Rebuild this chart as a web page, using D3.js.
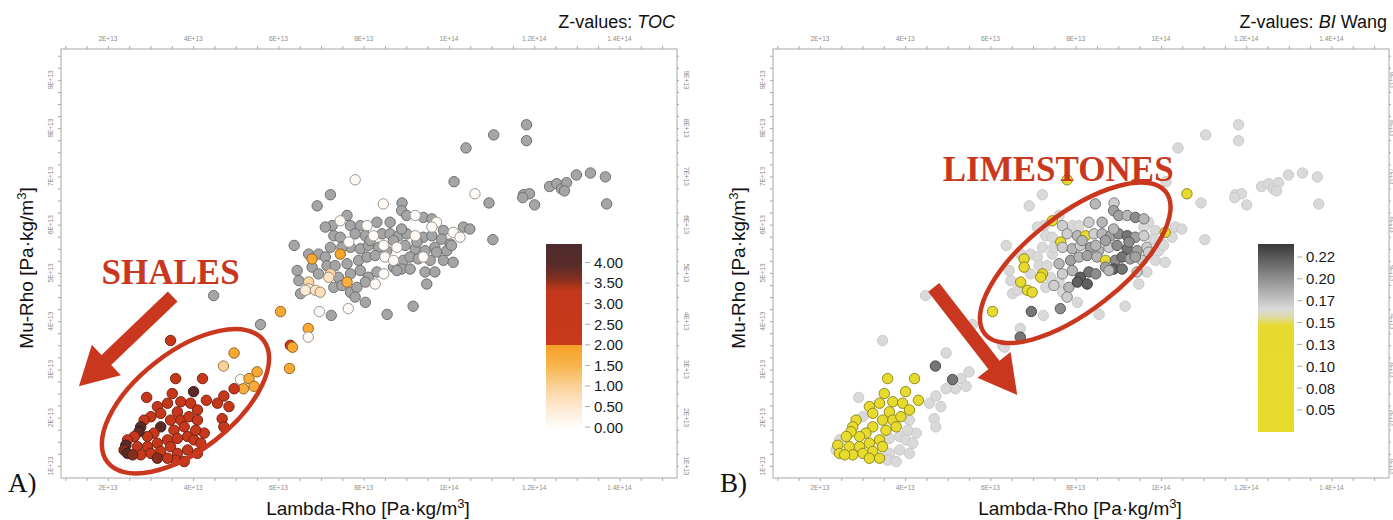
<!DOCTYPE html>
<html><head><meta charset="utf-8">
<script src="https://cdn.jsdelivr.net/npm/d3@7"></script>
<style>body{margin:0;background:#fff;} svg{display:block;font-family:"Liberation Sans",Arial,sans-serif;}</style>
</head><body><svg id="c" width="1393" height="520"></svg>
<script>
// Lambda-Rho and Mu-Rho in units of 1E+13 Pa·kg/m3
const lambdaRho = [
11.82,11.82,11.05,10.40,10.12,10.61,10.94,11.75,11.89,11.73,12.01,12.36,12.53,12.64,12.76,12.71,12.99,13.32,13.67,13.70,
11.03,9.16,8.55,7.80,7.22,6.91,8.46,8.90,6.37,6.05,6.70,6.70,6.28,6.33,5.58,6.96,7.24,7.64,8.04,4.48,
7.61,7.45,7.26,7.10,7.69,7.92,8.08,8.31,8.62,8.89,9.01,9.21,9.40,9.60,9.71,9.60,9.87,10.10,10.34,10.49,
7.30,7.45,7.65,7.80,8.04,8.23,8.43,8.62,8.82,9.01,9.21,9.40,9.60,9.83,10.03,10.26,
6.71,6.94,6.79,7.10,7.45,7.69,7.92,8.11,8.35,8.54,8.78,8.97,9.21,9.44,9.67,9.95,10.06,
6.44,6.79,7.14,7.33,7.61,7.88,8.08,8.27,8.50,8.70,8.93,9.09,9.28,9.56,9.87,10.10,
6.48,6.71,6.94,7.22,7.18,7.41,7.61,7.69,7.92,8.11,8.31,8.47,8.70,8.89,9.09,9.44,9.67,
6.52,6.71,6.87,6.98,6.63,7.30,7.49,7.69,7.84,8.04,8.27,7.80,9.48,
8.15,8.70,9.25,8.47,9.40,8.78,7.49,7.22,9.71,8.89,
3.47,3.59,4.22,4.01,2.91,3.51,4.31,4.57,4.84,4.68,4.72,4.26,3.16,3.40,3.71,3.94,4.10,3.63,3.24,3.01,
2.85,2.77,3.24,3.47,3.71,3.90,4.10,3.79,3.55,3.08,2.93,2.73,2.62,2.46,2.42,2.38,2.46,2.69,2.93,3.16,
3.40,3.63,3.87,4.02,4.18,3.47,3.24,3.01,2.77,2.58,3.63,3.87,3.59,3.79,3.40,3.16,4.06,4.10,
4.71,4.96,5.11,5.31,5.43,5.18,4.96,4.72,5.50,6.26
];
const muRho = [
8.07,7.74,7.86,7.59,6.89,6.64,6.45,6.62,6.64,6.56,6.41,6.79,6.85,6.74,6.87,6.70,7.03,7.07,6.99,6.43,
5.69,4.31,4.14,6.93,6.62,6.39,6.43,6.45,5.57,4.20,3.85,3.67,3.50,3.46,3.93,4.20,4.12,4.26,4.39,4.53,
6.19,6.08,5.98,5.95,5.98,5.98,5.98,6.05,6.05,6.29,6.19,6.19,6.15,6.12,6.05,5.95,5.88,5.84,5.95,5.91,
5.77,5.74,5.64,5.81,5.77,5.77,5.81,5.81,5.77,5.81,5.77,5.74,5.77,5.70,5.60,5.74,
5.39,5.39,5.29,5.33,5.39,5.53,5.50,5.57,5.53,5.46,5.53,5.57,5.50,5.46,5.53,5.46,5.57,
5.05,5.12,5.15,5.15,5.19,5.26,5.33,5.36,5.33,5.26,5.26,5.33,5.29,5.26,5.26,5.22,
4.84,4.81,4.98,4.98,4.91,4.91,4.81,4.98,5.05,4.91,5.02,4.98,5.12,5.08,5.08,5.02,5.02,
4.57,4.67,4.64,4.60,4.64,4.70,4.74,4.60,4.70,4.81,4.77,4.50,4.77,
5.67,5.67,5.64,5.57,5.33,5.05,5.53,5.53,5.43,5.91,
3.60,2.81,2.81,2.54,2.42,2.50,2.36,2.30,2.23,1.98,1.81,1.68,2.23,2.30,2.33,2.30,2.16,2.12,2.09,2.02,
1.95,1.81,1.81,1.95,1.95,2.02,1.95,1.81,1.74,1.68,1.61,1.71,1.61,1.54,1.43,1.33,1.26,1.40,1.40,1.47,
1.54,1.57,1.61,1.54,1.47,1.40,1.30,1.26,1.23,1.23,1.26,1.33,1.12,1.09,1.16,1.16,1.74,1.26,
3.07,3.34,2.79,2.81,2.65,2.60,2.60,2.45,2.95,3.02
];
// TOC (null = no value, drawn grey)
const toc = [
null,null,null,null,null,0.05,null,null,null,null,null,null,null,null,null,null,null,null,null,null,
null,null,null,0.05,null,null,0.05,null,null,1.8,1.8,0.05,3.3,1.8,null,0.05,null,0.05,null,null,
null,0.05,null,null,null,null,0.05,null,null,null,null,0.05,null,null,0.05,0.05,null,0.05,null,null,
null,null,0.05,null,null,0.05,null,null,null,null,0.05,null,null,null,null,0.05,
null,null,1.8,null,1.9,null,null,null,null,null,0.05,null,null,null,null,null,null,
null,null,null,null,null,null,null,null,0.05,0.05,null,null,null,null,null,null,
null,0.9,null,0.8,0.6,null,1.6,null,null,null,null,0.05,null,null,null,null,null,
null,0.5,0.6,0.7,0.4,null,null,null,null,null,0.05,null,null,
null,null,null,0.05,0.05,null,null,null,null,null,
2.9,3.0,3.0,3.9,3.0,3.0,3.0,2.9,2.9,3.0,3.1,3.0,3.0,3.0,3.0,3.0,3.0,3.0,3.0,3.0,
3.0,3.9,3.9,3.0,3.0,3.0,3.0,3.0,3.0,3.0,3.0,3.9,3.0,3.0,3.9,3.6,3.9,3.0,3.0,3.0,
3.0,3.0,3.0,3.0,3.0,3.0,3.0,3.0,3.0,3.6,3.0,3.0,3.0,3.0,3.0,3.6,3.0,3.0,
1.0,1.8,0.1,1.7,1.7,1.7,2.8,2.9,1.8,1.8
];
// Brittleness index (Wang)
const biWang = [
0.165,0.165,0.165,0.165,0.165,0.09,0.165,0.165,0.165,0.165,0.165,0.165,0.165,0.165,0.165,0.165,0.165,0.165,0.165,0.165,
0.165,0.165,0.165,0.09,0.165,0.165,0.18,0.17,0.165,0.09,0.165,0.21,0.165,0.165,0.165,0.21,0.165,0.20,0.165,0.165,
0.165,0.09,0.165,0.165,0.17,0.165,0.165,0.17,0.18,0.19,0.19,0.18,0.20,0.18,0.165,0.165,0.165,0.09,0.165,0.165,
0.165,0.165,0.09,0.17,0.18,0.09,0.17,0.18,0.19,0.20,0.21,0.19,0.17,0.165,0.165,0.165,
0.165,0.165,0.09,0.165,0.165,0.17,0.18,0.17,0.19,0.18,0.17,0.20,0.21,0.19,0.17,0.165,0.165,
0.165,0.09,0.165,0.165,0.18,0.19,0.18,0.19,0.18,0.09,0.20,0.21,0.19,0.17,0.165,0.165,
0.165,0.09,0.165,0.09,0.09,0.165,0.165,0.17,0.18,0.22,0.21,0.20,0.19,0.22,0.21,0.17,0.165,
0.165,0.165,0.09,0.09,0.165,0.165,0.17,0.165,0.18,0.22,0.22,0.17,0.165,
0.18,0.19,0.20,0.18,0.19,0.18,0.165,0.165,0.17,0.18,
0.165,0.09,0.09,0.09,0.165,0.09,0.09,0.165,0.165,0.165,0.165,0.165,0.09,0.09,0.09,0.09,0.08,0.08,0.09,0.165,
0.09,0.08,0.08,0.09,0.09,0.09,0.165,0.09,0.08,0.08,0.08,0.08,0.08,0.165,0.08,0.165,0.08,0.08,0.08,0.09,
0.09,0.165,0.165,0.165,0.165,0.09,0.08,0.08,0.08,0.08,0.165,0.165,0.165,0.165,0.09,0.08,0.165,0.165,
0.21,0.165,0.21,0.165,0.165,0.165,0.165,0.165,0.165,0.165
];

const xTicks = [2,4,6,8,10,12,14];
const xTickLabels = ["2E+13","4E+13","6E+13","8E+13","1E+14","1.2E+14","1.4E+14"];
const yTicks = [1,2,3,4,5,6,7,8,9];
const yTickLabels = ["1E+13","2E+13","3E+13","4E+13","5E+13","6E+13","7E+13","8E+13","9E+13"];
const tocTicks = [0,0.5,1,1.5,2,2.5,3,3.5,4];
const tocTickLabels = ["0.00","0.50","1.00","1.50","2.00","2.50","3.00","3.50","4.00"];
const biTicks = [0.0525,0.0768,0.1011,0.1254,0.1497,0.174,0.1983,0.2226];
const biTickLabels = ["0.05","0.08","0.10","0.13","0.15","0.17","0.20","0.22"];

const tocStops = [[-0.07,"#ffffff"],[0.5,"#fde8d0"],[1.0,"#fbd197"],[1.5,"#f8b44b"],[1.999,"#f6a125"],[2.0,"#c9391b"],[3.3,"#c5381b"],[3.6,"#85301f"],[3.9,"#5b2b28"],[4.45,"#4d2b2d"]];
const biStops = [[0.028,"#e7db2d"],[0.146,"#e6da30"],[0.157,"#dedbb0"],[0.165,"#d9d9d9"],[0.176,"#c0c0c0"],[0.20,"#8c8c8c"],[0.237,"#383838"]];

const svg = d3.select("#c");
const W = 1393;
const X0 = 61, X1 = 677, YB = 478, YT = 49;
const x = d3.scaleLinear().domain([0.9, 15.35]).range([X0, X1]);
const y = d3.scaleLinear().domain([0.75, 9.64]).range([YB, YT]);

const tocColor = d3.scaleLinear().domain(tocStops.map(d=>d[0])).range(tocStops.map(d=>d[1])).clamp(true);
const biColor = d3.scaleLinear().domain(biStops.map(d=>d[0])).range(biStops.map(d=>d[1])).clamp(true);

const points = lambdaRho.map((v,i)=>({lr:v, mr:muRho[i], toc:toc[i], bi:biWang[i]}));
const isLight = d => d.bi>=0.15 && d.bi<0.168;

const defs = svg.append("defs");

const panels = [
  {off:0, key:"toc", title:["Z-values: ", "TOC", ""], letter:"A)",
   cbDomain:[-0.07,4.45], cbRange:[430,244], stops:tocStops, ticks:tocTicks, labels:tocTickLabels, gid:"gA",
   label:"SHALES", labelPos:[3.47,4.78], arrow:[[3.52,4.51],[1.32,2.65]], ell:{c:[3.82,2.34], a:99, b:49, rot:-38}},
  {off:712, key:"bi", title:["Z-values: ", "BI", " Wang"], letter:"B)",
   cbDomain:[0.028,0.237], cbRange:[432,244], stops:biStops, ticks:biTicks, labels:biTickLabels, gid:"gB",
   label:"LIMESTONES", labelPos:[7.59,6.91], arrow:[[4.67,4.70],[6.63,2.47]], ell:{c:[7.99,5.21], a:115, b:48, rot:-38}}
];

panels.forEach(p=>{
  const g = svg.append("g").attr("transform",`translate(${p.off},0)`);
  g.append("rect").attr("x",X0).attr("y",YT).attr("width",X1-X0).attr("height",YB-YT)
    .attr("fill","#fff").attr("stroke","#a8a8a8").attr("stroke-width",1);
  const xMinor = d3.range(1,15.5,0.5);
  const yMinor = d3.range(1,9.6,0.25);
  const styleAxis = s=>{s.select(".domain").remove(); s.selectAll("line").attr("stroke","#aaa");};
  g.append("g").attr("transform",`translate(0,${YT})`).call(d3.axisTop(x).tickValues(xMinor).tickSize(3).tickFormat("")).call(styleAxis);
  g.append("g").attr("transform",`translate(0,${YB})`).call(d3.axisBottom(x).tickValues(xMinor).tickSize(3).tickFormat("")).call(styleAxis);
  g.append("g").attr("transform",`translate(${X0},0)`).call(d3.axisLeft(y).tickValues(yMinor).tickSize(3).tickFormat("")).call(styleAxis);
  g.append("g").attr("transform",`translate(${X1},0)`).call(d3.axisRight(y).tickValues(yMinor).tickSize(2).tickFormat("")).call(styleAxis);
  const fs = "6.5px", fc = "#8c8c8c";
  xTicks.forEach((v,i)=>{
    g.append("text").attr("x",x(v)).attr("y",YT-8).attr("text-anchor","middle").attr("font-size",fs).attr("fill",fc).text(xTickLabels[i]);
    g.append("text").attr("x",x(v)).attr("y",YB+12).attr("text-anchor","middle").attr("font-size",fs).attr("fill",fc).text(xTickLabels[i]);
  });
  const rightX = Math.min(X1+7, W-3.5-p.off);
  const rightFs = (X1+7 > W-3.5-p.off) ? "5.5px" : fs;
  yTicks.forEach((v,i)=>{
    g.append("text").attr("transform",`translate(${X0-8},${y(v)}) rotate(-90)`).attr("text-anchor","middle").attr("font-size",fs).attr("fill",fc).text(yTickLabels[i]);
    g.append("text").attr("transform",`translate(${rightX},${y(v)}) rotate(90)`).attr("text-anchor","middle").attr("font-size",rightFs).attr("fill",fc).text(yTickLabels[i]);
  });

  let pts = points.slice();
  if (p.key==="toc") pts.sort((a,b)=>(a.toc===null?0:1)-(b.toc===null?0:1));
  else pts.sort((a,b)=>(isLight(a)?0:1)-(isLight(b)?0:1));
  g.append("g").selectAll("circle").data(pts).join("circle")
    .attr("cx",d=>x(d.lr)).attr("cy",d=>y(d.mr)).attr("r",5.2)
    .attr("fill",d=>{
      if (p.key==="toc") return d.toc===null ? "#a5a5a5" : tocColor(d.toc);
      return biColor(d.bi);
    })
    .attr("stroke",d=>{
      if (p.key==="toc") return d.toc===null ? "#707070" : d3.color(tocColor(d.toc)).darker(1.4);
      const c = d3.color(biColor(d.bi));
      return isLight(d) ? c.darker(0.2) : c.darker(1.3);
    })
    .attr("stroke-width",1);

  const cb = d3.scaleLinear().domain(p.cbDomain).range(p.cbRange);
  const grad = defs.append("linearGradient").attr("id",p.gid).attr("x1",0).attr("y1",1).attr("x2",0).attr("y2",0);
  p.stops.forEach(s=>{
    grad.append("stop").attr("offset",(s[0]-p.cbDomain[0])/(p.cbDomain[1]-p.cbDomain[0])).attr("stop-color",s[1]);
  });
  const cbX = 546, cbW = 36;
  g.append("rect").attr("x",cbX).attr("y",cb(p.cbDomain[1])).attr("width",cbW).attr("height",cb(p.cbDomain[0])-cb(p.cbDomain[1]))
    .attr("fill",`url(#${p.gid})`);
  p.ticks.forEach((v,i)=>{
    g.append("line").attr("x1",cbX+cbW+3).attr("x2",cbX+cbW+8).attr("y1",cb(v)).attr("y2",cb(v)).attr("stroke","#aaa");
    g.append("text").attr("x",cbX+cbW+12).attr("y",cb(v)).attr("dy","0.36em").attr("font-size","15px").attr("fill","#1a1a1a").text(p.labels[i]);
  });

  const red = "#c9381e";
  const ec = [x(p.ell.c[0]), y(p.ell.c[1])];
  g.append("ellipse").attr("cx",0).attr("cy",0).attr("rx",p.ell.a).attr("ry",p.ell.b)
    .attr("transform",`translate(${ec[0]},${ec[1]}) rotate(${p.ell.rot})`)
    .attr("fill","none").attr("stroke",red).attr("stroke-width",4.5);
  const s0 = [x(p.arrow[0][0]), y(p.arrow[0][1])], s1 = [x(p.arrow[1][0]), y(p.arrow[1][1])];
  const dx = s1[0]-s0[0], dy = s1[1]-s0[1], L = Math.hypot(dx,dy);
  const ux = dx/L, uy = dy/L, nx = -uy, ny = ux;
  const hw = 7, hh = 21, hl = 38;
  const bx = s1[0]-ux*hl, by = s1[1]-uy*hl;
  const poly = [
    [s0[0]+nx*hw, s0[1]+ny*hw],[bx+nx*hw, by+ny*hw],[bx+nx*hh, by+ny*hh],[s1[0],s1[1]],
    [bx-nx*hh, by-ny*hh],[bx-nx*hw, by-ny*hw],[s0[0]-nx*hw, s0[1]-ny*hw]];
  g.append("polygon").attr("points",poly.map(q=>q.join(",")).join(" ")).attr("fill",red);
  g.append("text").attr("x",x(p.labelPos[0])).attr("y",y(p.labelPos[1])).attr("text-anchor","middle")
    .attr("font-family","'Liberation Serif','Times New Roman',serif").attr("font-weight","bold").attr("font-size","35px")
    .attr("fill",red).text(p.label);

  const zt = g.append("text").attr("x",X1-2).attr("y",28).attr("text-anchor","end").attr("font-size","18px").attr("fill","#111");
  zt.append("tspan").text(p.title[0]);
  zt.append("tspan").attr("font-style","italic").text(p.title[1]);
  zt.append("tspan").text(p.title[2]);

  const xt = g.append("text").attr("x",368).attr("y",515).attr("text-anchor","middle").attr("font-size","19px").attr("fill","#111");
  xt.append("tspan").text("Lambda-Rho [Pa·kg/m");
  xt.append("tspan").attr("font-size","13px").attr("dy","-7").text("3");
  xt.append("tspan").attr("dy","7").text("]");

  const yt = g.append("text").attr("transform",`translate(33,268) rotate(-90)`).attr("text-anchor","middle").attr("font-size","19px").attr("fill","#111");
  yt.append("tspan").text("Mu-Rho [Pa·kg/m");
  yt.append("tspan").attr("font-size","13px").attr("dy","-7").text("3");
  yt.append("tspan").attr("dy","7").text("]");

  g.append("text").attr("x",8).attr("y",492).attr("font-family","'Liberation Serif','Times New Roman',serif")
    .attr("font-size","27px").attr("fill","#111").text(p.letter);
});
</script></body></html>
